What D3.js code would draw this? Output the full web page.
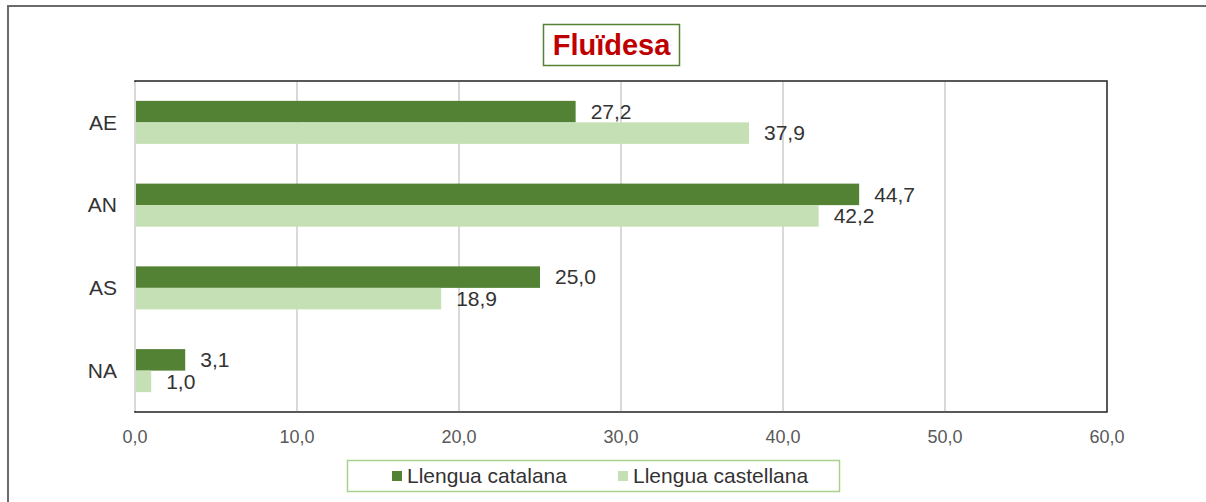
<!DOCTYPE html>
<html>
<head>
<meta charset="utf-8">
<script src="https://cdn.jsdelivr.net/npm/d3@7"></script>
<style>
  body { margin: 0; background: #fff; }
  svg { font-family: "Liberation Sans", Arial, sans-serif; }
</style>
</head>
<body>
<svg width="1206" height="502"></svg>
<script>
// data
let categories = ["AE", "AN", "AS", "NA"];
let catalana = [27.2, 44.7, 25.0, 3.1];
let castellana = [37.9, 42.2, 18.9, 1.0];
let seriesNames = ["Llengua catalana", "Llengua castellana"];
let ticks = [0, 10, 20, 30, 40, 50, 60];

var colors = ["#548235", "#C5E0B4"];
var margin = { left: 135, right: 1107, top: 81, bottom: 412 };
var fmt = v => v.toFixed(1).replace(".", ",");

var svg = d3.select("svg");

// outer frame (left + top only visible)
svg.append("path")
    .attr("d", "M8,502 V6 H1206")
    .attr("fill", "none")
    .attr("stroke", "#6b6b6b")
    .attr("stroke-width", 2);

var x = d3.scaleLinear().domain([0, 60]).range([margin.left, margin.right]);
var y = d3.scaleBand().domain(categories).range([margin.top, margin.bottom]).paddingInner(0.48).paddingOuter(0.24);

// plot area box
svg.append("rect")
    .attr("x", margin.left)
    .attr("y", margin.top)
    .attr("width", margin.right - margin.left)
    .attr("height", margin.bottom - margin.top)
    .attr("fill", "none")
    .attr("stroke", "#222")
    .attr("stroke-width", 1.5);

// gridlines
svg.selectAll("line.grid")
    .data(ticks.slice(0, -1))
    .enter()
    .append("line")
    .attr("class", "grid")
    .attr("x1", d => x(d))
    .attr("x2", d => x(d))
    .attr("y1", margin.top + 1)
    .attr("y2", margin.bottom - 1)
    .attr("stroke", "#d9d9d9")
    .attr("stroke-width", 2);

// x tick labels
svg.selectAll("text.tick")
    .data(ticks)
    .enter()
    .append("text")
    .attr("class", "tick")
    .attr("x", d => x(d))
    .attr("y", 437)
    .attr("dy", "0.35em")
    .attr("text-anchor", "middle")
    .attr("font-size", 18)
    .attr("fill", "#595959")
    .text(d => fmt(d));

// category labels
svg.selectAll("text.cat")
    .data(categories)
    .enter()
    .append("text")
    .attr("class", "cat")
    .attr("x", 117)
    .attr("y", d => y(d) + y.bandwidth() / 2)
    .attr("dy", "0.35em")
    .attr("text-anchor", "end")
    .attr("font-size", 21)
    .attr("fill", "#333")
    .text(d => d);

var bh = y.bandwidth() / 2;
var series = [catalana, castellana];

series.forEach((vals, si) => {
    var rows = categories.map((c, i) => ({ c: c, v: vals[i] }));
    svg.selectAll("rect.s" + si)
        .data(rows)
        .enter()
        .append("rect")
        .attr("class", "s" + si)
        .attr("x", x(0) + 1)
        .attr("y", d => y(d.c) + si * bh)
        .attr("width", d => x(d.v) - x(0) - 1)
        .attr("height", bh)
        .attr("fill", colors[si]);

    svg.selectAll("text.l" + si)
        .data(rows)
        .enter()
        .append("text")
        .attr("class", "l" + si)
        .attr("x", d => x(d.v) + 15)
        .attr("y", d => y(d.c) + si * bh + bh / 2)
        .attr("dy", "0.35em")
        .attr("font-size", 21)
        .attr("fill", "#333")
        .text(d => fmt(d.v));
});

// title
svg.append("rect")
    .attr("x", 543.5).attr("y", 24.5)
    .attr("width", 136).attr("height", 41)
    .attr("fill", "#fff")
    .attr("stroke", "#548235")
    .attr("stroke-width", 1.5);
svg.append("text")
    .attr("x", 611.5)
    .attr("y", 45)
    .attr("dy", "0.35em")
    .attr("text-anchor", "middle")
    .attr("font-size", 29)
    .attr("font-weight", "bold")
    .attr("fill", "#c00000")
    .text("Fluïdesa");

// legend
svg.append("rect")
    .attr("x", 347.5).attr("y", 460.5)
    .attr("width", 492).attr("height", 31)
    .attr("fill", "#fff")
    .attr("stroke", "#a9d18e")
    .attr("stroke-width", 1.5);

var legendX = [392, 618];
seriesNames.forEach((name, i) => {
    svg.append("rect")
        .attr("x", legendX[i]).attr("y", 471)
        .attr("width", 10).attr("height", 10)
        .attr("fill", colors[i]);
    svg.append("text")
        .attr("x", legendX[i] + 15)
        .attr("y", 476)
        .attr("dy", "0.35em")
        .attr("font-size", 21)
        .attr("fill", "#333")
        .text(name);
});
</script>
</body>
</html>
